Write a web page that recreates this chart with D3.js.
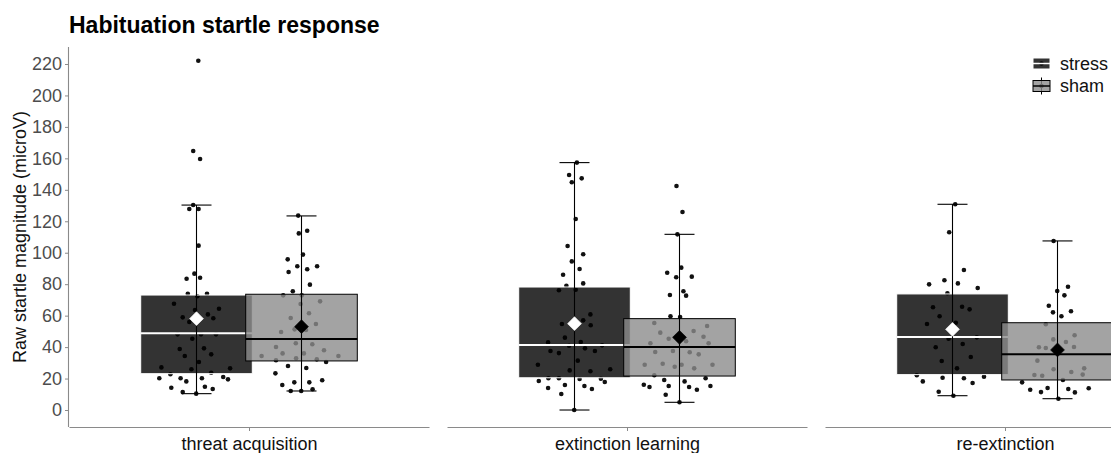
<!DOCTYPE html>
<html>
<head>
<meta charset="utf-8">
<script src="https://cdn.jsdelivr.net/npm/d3@7"></script>
<style>
  body { margin: 0; background: #fff; overflow: hidden; }
  svg { display: block; }
  text { font-family: "Liberation Sans", Arial, sans-serif; }
</style>
</head>
<body>
<svg id="chart" width="1111" height="453"></svg>
<script>
// Phases (one facet each) and groups
const phases = ["threat acquisition", "extinction learning", "re-extinction"];
const groups = ["stress", "sham"];
const yTicks = [0, 20, 40, 60, 80, 100, 120, 140, 160, 180, 200, 220];

// Raw startle magnitudes per subject, one array per phase
const stressValues = [
  [222.1,164.7,159.6,130.3,127.8,127.8,104.5,86.7,83.5,84.1,73.9,72.3,73.9,67.6,64.4,63.6,60.8,58.9,58.3,56.0,48.1,48.1,48.1,45.3,38.8,39.2,34.3,35.4,30.5,27.1,25.9,26.5,23.7,22.7,20.2,20.2,18.2,20.2,21.0,19.5,14.2,14.8,13.4,11.4,10.4],
  [157.3,149.4,147.3,144.8,121.4,104.3,99.0,94.5,89.7,86.0,80.5,79.0,76.1,76.5,60.8,57.0,54.7,53.9,46.0,43.0,43.2,41.1,40.9,39.2,37.5,36.2,37.5,31.4,28.8,25.2,24.6,25.9,18.4,20.2,20.2,19.7,19.9,17.8,14.0,15.9,15.3,13.4,10.2,0.0],
  [130.8,113.0,89.0,82.5,80.5,79.9,77.6,74.2,65.3,65.7,64.0,59.6,54.7,55.5,45.3,46.2,39.9,42.0,33.7,31.2,26.5,22.1,18.2,20.5,20.2,17.2,21.2,11.6,9.1]
];
const shamValues = [
  [123.6,112.3,114.0,98.8,95.8,87.7,91.4,89.5,91.4,79.7,75.5,72.9,72.9,69.1,67.4,61.5,58.5,49.6,54.7,51.3,50.9,42.4,41.8,40.1,36.0,36.0,38.0,34.3,34.3,32.9,31.6,32.2,30.5,28.0,26.7,23.3,18.9,15.9,17.6,17.6,12.1,12.1,13.2],
  [142.4,125.9,111.7,90.5,87.3,84.4,84.8,75.5,73.1,72.7,59.6,59.1,55.3,53.4,49.2,50.2,46.6,45.3,42.4,43.7,42.4,36.9,37.5,36.7,35.4,28.8,29.4,27.5,28.8,26.5,28.8,22.1,20.2,19.1,18.2,16.1,14.6,15.3,14.6,12.9,15.3,9.7,4.9],
  [107.5,75.7,78.4,72.9,66.3,62.1,59.6,62.8,54.5,47.5,39.9,39.4,44.9,43.2,40.1,31.4,25.9,22.3,21.8,24.2,22.5,26.5,17.6,19.1,12.9,11.4,14.0,13.4,11.2,13.8,7.2]
];

// Horizontal jitter of each point, in category units
const stressJitter = [
  [0.006,-0.011,0.012,-0.011,-0.024,0.007,0.007,-0.007,-0.033,0.012,-0.029,0.003,0.035,-0.075,0.075,-0.005,0.038,-0.046,0.056,-0.024,-0.063,0.015,0.065,-0.014,-0.056,0.025,-0.039,0.049,0.008,-0.117,-0.017,0.112,0.049,-0.087,-0.124,-0.053,-0.034,0.018,0.089,0.105,-0.084,0.028,0.054,-0.046,-0.001],
  [0.008,-0.018,0.024,-0.009,0.004,-0.023,0.029,-0.009,0.017,-0.038,0.029,-0.027,-0.052,0.004,0.053,0.029,-0.042,0.054,-0.032,-0.088,0.021,0.092,-0.018,0.035,-0.080,-0.052,0.068,0.011,-0.122,-0.016,0.053,0.119,-0.119,-0.087,-0.052,0.017,0.088,0.101,-0.088,-0.032,0.033,0.058,-0.044,-0.001],
  [0.009,-0.011,0.038,-0.027,0.018,-0.078,0.084,-0.017,-0.065,0.032,0.057,-0.043,-0.085,0.011,-0.013,0.081,-0.056,0.034,0.061,-0.036,0.015,-0.119,-0.099,-0.033,0.038,0.067,0.105,-0.046,0.003]
];
const shamJitter = [
  [-0.011,-0.009,0.019,0.005,-0.046,-0.043,-0.014,0.019,0.052,0.028,-0.029,-0.061,0.001,0.062,-0.003,0.025,-0.036,-0.068,0.048,-0.023,0.015,-0.019,0.036,-0.085,0.008,-0.063,0.075,-0.133,0.123,-0.018,-0.085,0.051,0.082,-0.045,0.016,-0.087,0.069,-0.064,-0.024,0.026,-0.036,-0.001,0.037],
  [-0.010,0.010,-0.007,0.006,-0.041,-0.011,0.041,0.013,-0.032,0.022,-0.030,0.002,-0.084,0.092,-0.064,0.047,0.080,-0.036,-0.097,0.022,0.097,-0.081,-0.022,0.034,0.064,-0.116,-0.056,-0.016,0.007,0.049,0.110,-0.084,0.087,-0.051,0.017,-0.119,-0.100,-0.036,0.032,0.058,0.103,-0.046,0.000],
  [-0.013,-0.001,0.035,0.023,-0.029,-0.015,0.013,0.045,-0.039,0.057,-0.062,-0.039,-0.014,0.028,0.055,-0.067,-0.013,-0.077,-0.051,0.046,0.084,0.089,-0.118,0.018,-0.091,-0.055,-0.033,0.036,0.058,0.104,0.003]
];

// Box summaries per phase: [lower whisker, Q1, median, Q3, upper whisker]
const stressBox = [[10.4,23.1,48.8,73.1,130.3],[0.0,20.5,41.3,78.2,157.3],[9.1,22.5,46.4,73.8,130.8]];
const shamBox   = [[12.1,31.2,45.1,73.6,123.4],[4.9,21.6,40.1,58.1,111.7],[7.2,19.1,35.4,55.5,107.5]];
// Group means per phase
const stressMean = [58.1, 54.9, 51.3];
const shamMean   = [53.0, 46.2, 38.2];

const svg = d3.select("#chart");

const panelLeft = 69, panelW = 360, panelGap = 18;
const panelTop = 47, panelBottom = 427;
const axisGrey = "#8a8a8a";

const y = d3.scaleLinear().domain([-10.8, 230.8]).range([panelBottom, panelTop]);
const panelX = d3.scaleBand().domain(phases).range([panelLeft, panelLeft + 3 * panelW + 2 * panelGap])
  .paddingInner(panelGap / (panelW + panelGap)).paddingOuter(0);
const xs = d3.scaleLinear().domain([-0.6, 0.6]).range([0, panelW]);

const dodge = { stress: -0.175, sham: 0.175 };
const boxHalf = 0.186, capHalf = 0.05;
const style = {
  stress: { fill: "#000", line: "#fff", meanFill: "#fff" },
  sham:   { fill: "#8c8c8c", line: "#000", meanFill: "#000" }
};
const series = {
  stress: { values: stressValues, jitter: stressJitter, box: stressBox, mean: stressMean },
  sham:   { values: shamValues, jitter: shamJitter, box: shamBox, mean: shamMean }
};

// Title
svg.append("text").attr("x", 69).attr("y", 33)
  .attr("font-size", 23).attr("font-weight", "bold").attr("fill", "#000")
  .text("Habituation startle response");

// Y axis (first panel only)
const yAxis = svg.append("g").attr("transform", `translate(${panelLeft},0)`)
  .call(d3.axisLeft(y).tickValues(yTicks).tickSize(4).tickPadding(3));
yAxis.select(".domain").attr("d", `M-0.5,${panelTop}V${panelBottom}`).attr("stroke", axisGrey).attr("stroke-width", 1.1);
yAxis.selectAll(".tick line").attr("stroke", axisGrey);
yAxis.selectAll(".tick text").attr("font-size", 18).attr("fill", "#4d4d4d")
  .attr("font-family", "'Liberation Sans', Arial, sans-serif");

svg.append("text")
  .attr("transform", `translate(26,${(panelTop + panelBottom) / 2}) rotate(-90)`)
  .attr("text-anchor", "middle").attr("font-size", 18).attr("fill", "#111")
  .text("Raw startle magnitude (microV)");

const defs = svg.append("defs");
defs.append("clipPath").attr("id", "clipAll").append("rect")
  .attr("x", 0).attr("y", 0).attr("width", 1111).attr("height", 453);

phases.forEach((phase, i) => {
  const g = svg.append("g").attr("transform", `translate(${panelX(phase)},0)`);

  // x axis line and tick
  const xAxis = g.append("g").attr("transform", `translate(0,${panelBottom})`)
    .call(d3.axisBottom(xs).tickValues([0]).tickFormat(() => phase).tickSize(4).tickPadding(6).tickSizeOuter(0));
  xAxis.select(".domain").attr("stroke", axisGrey).attr("stroke-width", 1.1);
  xAxis.selectAll(".tick line").attr("stroke", axisGrey);
  xAxis.selectAll(".tick text").attr("font-size", 18).attr("fill", "#111")
    .attr("font-family", "'Liberation Sans', Arial, sans-serif");

  // jittered points (drawn beneath boxes)
  groups.forEach(grp => {
    const s = series[grp];
    g.append("g").selectAll("circle")
      .data(s.values[i].map((v, k) => ({ v, j: s.jitter[i][k] })))
      .join("circle")
      .attr("cx", d => xs(dodge[grp] + d.j))
      .attr("cy", d => y(d.v))
      .attr("r", 2.3)
      .attr("fill", "#111");
  });

  // boxes with medians
  groups.forEach(grp => {
    const b = series[grp].box[i], st = style[grp], c = dodge[grp];
    g.append("rect")
      .attr("x", xs(c - boxHalf)).attr("width", xs(c + boxHalf) - xs(c - boxHalf))
      .attr("y", y(b[3])).attr("height", y(b[1]) - y(b[3]))
      .attr("fill", st.fill).attr("fill-opacity", 0.8)
      .attr("stroke", st.line).attr("stroke-width", 1);
    g.append("line")
      .attr("x1", xs(c - boxHalf)).attr("x2", xs(c + boxHalf))
      .attr("y1", y(b[2])).attr("y2", y(b[2]))
      .attr("stroke", st.line).attr("stroke-width", 2);
  });

  // error bars (whisker range with caps)
  groups.forEach(grp => {
    const b = series[grp].box[i], c = dodge[grp];
    const eb = g.append("g").attr("stroke", "#000").attr("stroke-width", 1.1);
    eb.append("line").attr("x1", xs(c)).attr("x2", xs(c)).attr("y1", y(b[0])).attr("y2", y(b[4]));
    [b[0], b[4]].forEach(v => eb.append("line")
      .attr("x1", xs(c - capHalf)).attr("x2", xs(c + capHalf))
      .attr("y1", y(v)).attr("y2", y(v)));
  });

  // group means as diamonds
  groups.forEach(grp => {
    const m = series[grp].mean[i], c = dodge[grp];
    g.append("path")
      .attr("d", d3.symbol(d3.symbolSquare, 96)())
      .attr("transform", `translate(${xs(c)},${y(m)}) rotate(45)`)
      .attr("fill", style[grp].meanFill).attr("stroke", style[grp].meanFill).attr("stroke-width", 0.6);
  });
});

// Legend
const legend = svg.append("g");
const keyX = 1033, keyW = 17;
const legendRows = [{ grp: "stress", cy: 63.5 }, { grp: "sham", cy: 86 }];
legendRows.forEach(({ grp, cy }) => {
  const st = style[grp];
  const kx = keyX + keyW / 2;
  const k = legend.append("g");
  k.append("line").attr("x1", kx).attr("x2", kx).attr("y1", cy - 8.5).attr("y2", cy + 8.5)
    .attr("stroke", grp === "sham" ? "#000" : "#fff").attr("stroke-width", 1);
  k.append("circle").attr("cx", kx).attr("cy", cy).attr("r", 2.3).attr("fill", "#111");
  k.append("rect").attr("x", keyX).attr("y", cy - 5.5).attr("width", keyW).attr("height", 11)
    .attr("fill", st.fill).attr("fill-opacity", 0.8).attr("stroke", st.line).attr("stroke-width", 1);
  k.append("line").attr("x1", keyX).attr("x2", keyX + keyW).attr("y1", cy).attr("y2", cy)
    .attr("stroke", st.line).attr("stroke-width", 1.5);
  legend.append("text").attr("x", 1060).attr("y", cy + 6.3)
    .attr("font-size", 18).attr("fill", "#111").text(grp);
});
</script>
</body>
</html>
